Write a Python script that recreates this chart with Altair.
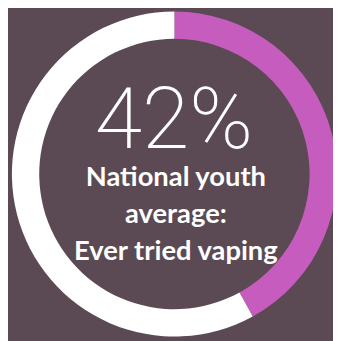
import altair as alt
import pandas as pd

categories = ["Ever tried vaping", "Never tried"]
values = [42, 58]
order = [0, 1]
colors = ["#c65dbe", "#ffffff"]

headline = "42%"
label_lines = ["National youth", "average:", "Ever tried vaping"]

BG = "#5b4a53"

df = pd.DataFrame({"category": categories, "value": values, "order": order})

cx, cy = 170.5, 166

ring = alt.Chart(df).mark_arc(innerRadius=138.5, outerRadius=166.5, stroke=None).encode(
    theta=alt.Theta("value:Q", stack=True),
    order=alt.Order("order:Q"),
    color=alt.Color("category:N", scale=alt.Scale(domain=categories, range=colors), legend=None),
    x=alt.value(cx),
    y=alt.value(cy),
)

big = alt.Chart(pd.DataFrame({"t": [headline]})).mark_text(
    font="Roboto", fontWeight=200, fontSize=88, color="white", baseline="alphabetic", align="center"
).encode(text="t:N", x=alt.value(170), y=alt.value(139))

lines_df = pd.DataFrame({"t": label_lines, "row": list(range(len(label_lines)))})
labels = alt.Chart(lines_df).mark_text(
    font="Lato", fontWeight="bold", fontSize=28, color="white", baseline="alphabetic", align="center"
).encode(
    text="t:N",
    x=alt.value(172),
    y=alt.Y("row:Q", scale=alt.Scale(domain=[0, 2], range=[178, 254]), axis=None),
)

chart = alt.layer(ring, big, labels).properties(
    width=333, height=333, background=BG, padding=0, autosize=alt.AutoSizeParams(type="none")
).configure_view(stroke=None)

chart.save("out.html", embed_options={"renderer": "svg", "actions": False})
